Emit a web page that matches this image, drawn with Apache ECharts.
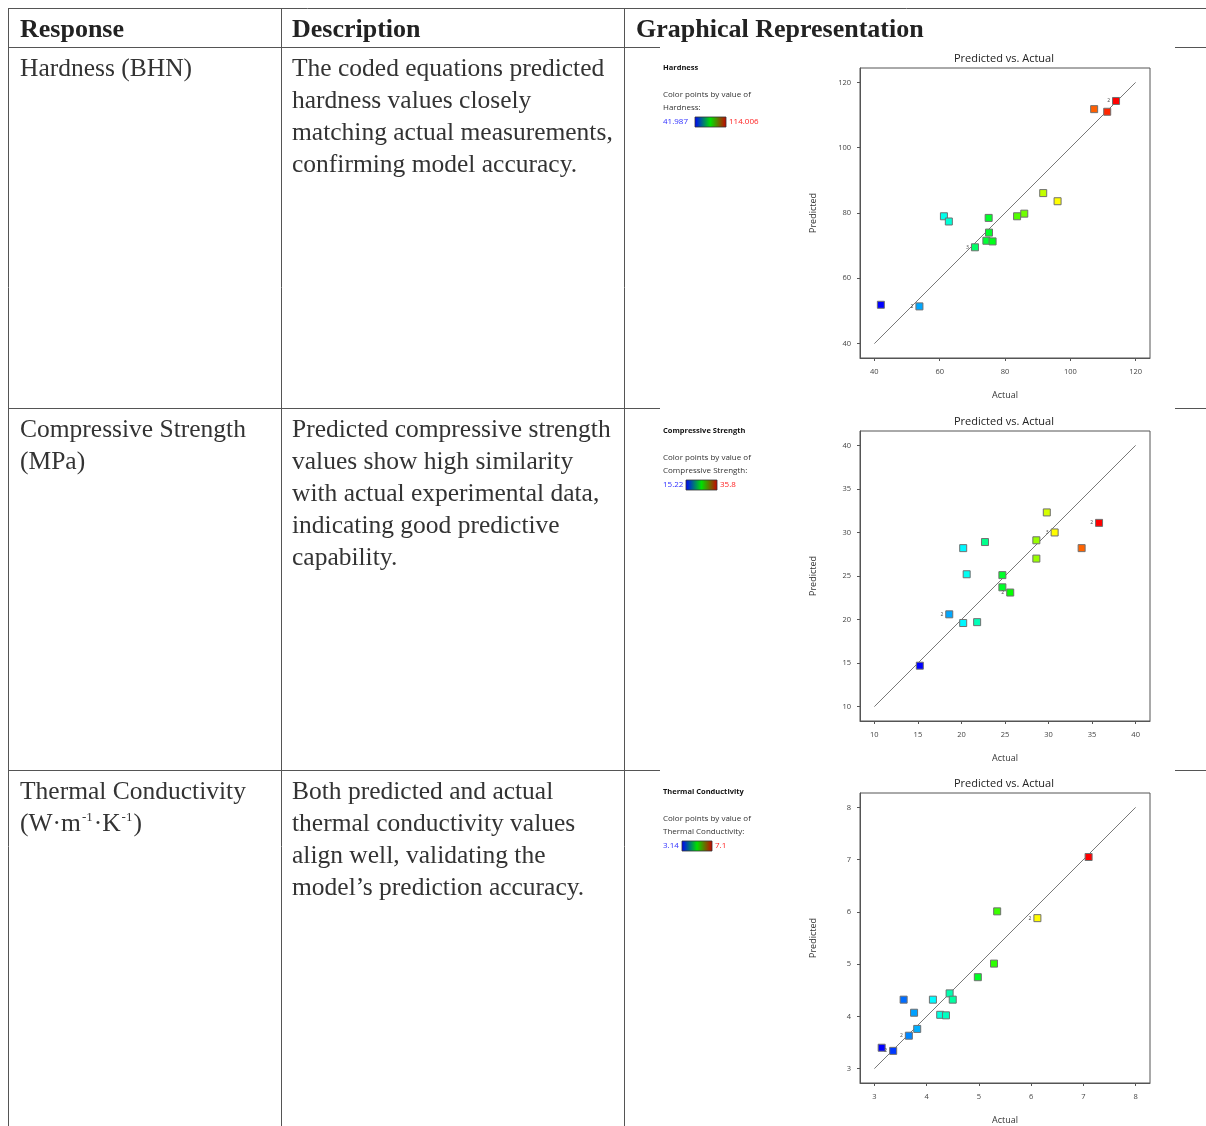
<!DOCTYPE html>
<html>
<head>
<meta charset="utf-8">
<script src="https://cdn.jsdelivr.net/npm/echarts@6/dist/echarts.min.js"></script>
<style>
html, body { margin: 0; padding: 0; background: #fff; }
#main { width: 1206px; height: 1126px; }
</style>
</head>
<body>
<div id="main"></div>
<script>
// Hardness (BHN)
var hardActual = [41.99, 53.8, 61.3, 62.8, 70.8, 74.3, 76.2, 75.1, 75.0, 83.7, 85.9, 91.7, 96.1, 107.3, 111.3, 114.0];
var hardPred = [51.9, 51.4, 79.0, 77.4, 69.5, 71.5, 71.3, 74.0, 78.5, 79.0, 79.8, 86.1, 83.6, 111.8, 111.0, 114.3];
var hardRep = ['', '2', '', '', '3', '', '', '', '', '', '', '', '', '', '', '2'];
var hardTicks = [40, 60, 80, 100, 120];
var hardRange = [41.987, 114.006];

// Compressive Strength (MPa)
var compActual = [15.22, 18.6, 20.2, 21.8, 20.2, 20.6, 22.7, 24.7, 24.7, 25.6, 28.6, 28.6, 29.8, 30.7, 33.8, 35.8];
var compPred = [14.7, 20.6, 19.6, 19.7, 28.2, 25.2, 28.9, 25.1, 23.7, 23.1, 29.1, 27.0, 32.3, 30.0, 28.2, 31.1];
var compRep = ['', '2', '', '', '', '', '', '', '', '2', '', '', '', '3', '', '2'];
var compTicks = [10, 15, 20, 25, 30, 35, 40];
var compRange = [15.22, 35.8];

// Thermal Conductivity
var thermActual = [3.14, 3.36, 3.56, 3.76, 3.66, 3.82, 4.12, 4.26, 4.37, 4.44, 4.50, 4.98, 5.29, 5.35, 6.12, 7.10];
var thermPred = [3.40, 3.34, 4.32, 4.07, 3.63, 3.76, 4.32, 4.03, 4.02, 4.44, 4.32, 4.75, 5.01, 6.01, 5.88, 7.05];
var thermRep = ['', '2', '', '', '2', '', '', '', '', '', '', '', '', '', '2', ''];
var thermTicks = [3, 4, 5, 6, 7, 8];
var thermRange = [3.14, 7.1];

var rainbow = ['#0000ff', '#00ffff', '#00ff00', '#ffff00', '#ff0000'];
var serif = '"Liberation Serif", "DejaVu Serif", serif';
var sans = '"Open Sans", "Noto Sans", sans-serif';

var chartDom = document.getElementById('main');
var myChart = echarts.init(chartDom);

var plots = [
	{ actual: hardActual, pred: hardPred, rep: hardRep, ticks: hardTicks, top: 68 },
	{ actual: compActual, pred: compPred, rep: compRep, ticks: compTicks, top: 431 },
	{ actual: thermActual, pred: thermPred, rep: thermRep, ticks: thermTicks, top: 793 }
];

function axis(i, ticks, isX) {
	var lo = ticks[0], hi = ticks[ticks.length - 1];
	var pad = (hi - lo) * 0.055;
	return {
		type: 'value',
		gridIndex: i,
		min: lo - pad,
		max: hi + pad,
		name: isX ? 'Actual' : 'Predicted',
		nameLocation: 'middle',
		nameGap: isX ? 33 : 42,
		nameTextStyle: { fontFamily: sans, fontSize: 9, color: '#333' },
		axisLine: { show: true, lineStyle: { color: '#555', width: 1 } },
		axisTick: { show: true, length: 3, customValues: ticks, lineStyle: { color: '#555' } },
		axisLabel: { customValues: ticks, margin: isX ? 10 : 9, fontFamily: sans, fontSize: 7.5, color: '#444' },
		splitLine: { show: false }
	};
}

var grids = [], xAxes = [], yAxes = [], series = [], visualMaps = [];
var ranges = [hardRange, compRange, thermRange];
plots.forEach(function (p, i) {
	grids.push({ left: 860, top: p.top, width: 290, height: 290, show: true, borderColor: '#555', borderWidth: 1 });
	xAxes.push(axis(i, p.ticks, true));
	yAxes.push(axis(i, p.ticks, false));
	var lo = p.ticks[0], hi = p.ticks[p.ticks.length - 1];
	series.push({
		type: 'line',
		xAxisIndex: i,
		yAxisIndex: i,
		data: [[lo, lo], [hi, hi]],
		symbol: 'none',
		lineStyle: { color: '#555', width: 0.8 },
		z: 1
	});
	series.push({
		type: 'scatter',
		xAxisIndex: i,
		yAxisIndex: i,
		data: p.actual.map(function (a, k) { return [a, p.pred[k]]; }),
		symbol: 'rect',
		symbolSize: 7,
		itemStyle: { borderColor: '#707070', borderWidth: 1, opacity: 1 },
		label: {
			show: true,
			position: 'left',
			distance: 2,
			fontSize: 5,
			fontFamily: sans,
			color: '#444',
			formatter: function (d) { return p.rep[d.dataIndex]; }
		},
		z: 3
	});
	visualMaps.push({
		type: 'continuous',
		show: false,
		seriesIndex: series.length - 1,
		dimension: 0,
		min: ranges[i][0],
		max: ranges[i][1],
		inRange: { color: rainbow }
	});
});

// table rules
var rule = { stroke: '#555', lineWidth: 1 };
function hline(y, x1, x2) { return { type: 'line', shape: { x1: x1, y1: y, x2: x2, y2: y }, style: rule, silent: true }; }
function vline(x, y1, y2) { return { type: 'line', shape: { x1: x, y1: y1, x2: x, y2: y2 }, style: rule, silent: true }; }
function txt(x, y, s, font, fill, extra) {
	var st = { x: x, y: y, text: s, font: font, fill: fill || '#222', verticalAlign: 'middle' };
	for (var k in extra) st[k] = extra[k];
	return { type: 'text', style: st, silent: true };
}

var headFont = 'bold 26px ' + serif;
var bodyFont = '25.5px ' + serif;
var para = { verticalAlign: 'top', lineHeight: 32 };

var graphics = [
	hline(8.5, 8, 1206),
	hline(47.5, 8, 660), hline(47.5, 1175, 1206),
	hline(408.5, 8, 660), hline(408.5, 1175, 1206),
	hline(770.5, 8, 660), hline(770.5, 1175, 1206),
	vline(8.5, 8, 1126), vline(281.5, 8, 1126), vline(624.5, 8, 1126),
	txt(20, 30, 'Response', headFont),
	txt(292, 30, 'Description', headFont),
	txt(636, 30, 'Graphical Representation', headFont),
	txt(20, 53, 'Hardness (BHN)', bodyFont, '#333', para),
	txt(292, 53, 'The coded equations predicted\nhardness values closely\nmatching actual measurements,\nconfirming model accuracy.', bodyFont, '#333', para),
	txt(20, 414, 'Compressive Strength\n(MPa)', bodyFont, '#333', para),
	txt(292, 414, 'Predicted compressive strength\nvalues show high similarity\nwith actual experimental data,\nindicating good predictive\ncapability.', bodyFont, '#333', para),
	txt(20, 776, 'Thermal Conductivity', bodyFont, '#333', para),
	{
		type: 'text',
		silent: true,
		style: {
			x: 20, y: 808, verticalAlign: 'top', lineHeight: 32,
			text: '(W\u00b7m{sup|-1}\u00b7K{sup|-1})',
			font: bodyFont, fill: '#333',
			rich: { sup: { fontSize: 13, fontFamily: serif, fill: '#333', padding: [0, 1, 12, 1] } }
		}
	},
	txt(292, 776, 'Both predicted and actual\nthermal conductivity values\nalign well, validating the\nmodel\u2019s prediction accuracy.', bodyFont, '#333', para)
];

// per-plot titles and colour keys
var keys = [
	{ name: 'Hardness', y: 68, lo: '41.987', hi: '114.006', barX: 695, barW: 31 },
	{ name: 'Compressive Strength', y: 431, lo: '15.22', hi: '35.8', barX: 686, barW: 31 },
	{ name: 'Thermal Conductivity', y: 792, lo: '3.14', hi: '7.1', barX: 682, barW: 30 }
];
keys.forEach(function (k, i) {
	var t = plots[i].top;
	graphics.push(txt(1004, t - 9, 'Predicted vs. Actual', '11px ' + sans, '#222', { align: 'center' }));
	graphics.push(txt(663, k.y, k.name, 'bold 7.5px ' + sans, '#111'));
	graphics.push(txt(663, k.y + 27, 'Color points by value of', '8px ' + sans, '#333'));
	graphics.push(txt(663, k.y + 40, k.name + ':', '8px ' + sans, '#333'));
	graphics.push(txt(663, k.y + 54, k.lo, '8px ' + sans, '#3030ff'));
	graphics.push({
		type: 'rect',
		shape: { x: k.barX, y: k.y + 49, width: k.barW, height: 10 },
		style: {
			fill: new echarts.graphic.LinearGradient(0, 0, 1, 0, [
				{ offset: 0, color: '#0000ff' },
				{ offset: 0.5, color: '#00e000' },
				{ offset: 1, color: '#cc0000' }
			]),
			stroke: '#333',
			lineWidth: 0.8
		},
		silent: true
	});
	graphics.push(txt(k.barX + k.barW + 3, k.y + 54, k.hi, '8px ' + sans, '#ff2020'));
});

var option = {
	animation: false,
	backgroundColor: '#fff',
	grid: grids,
	xAxis: xAxes,
	yAxis: yAxes,
	visualMap: visualMaps,
	series: series,
	graphic: graphics
};

option && myChart.setOption(option);
</script>
</body>
</html>
